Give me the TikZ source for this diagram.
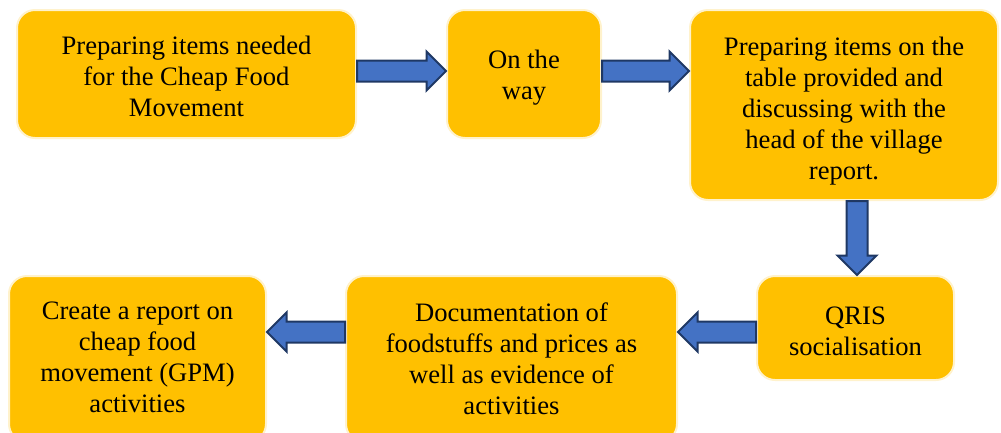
\documentclass[tikz,border=0pt]{standalone}
\usepackage{fontspec}
\setmainfont{Liberation Serif}
\usetikzlibrary{shapes.arrows, calc}
\definecolor{boxfill}{HTML}{FFC000}
\definecolor{boxline}{HTML}{FFF2CC}
\definecolor{arrowfill}{HTML}{4472C4}
\definecolor{arrowline}{HTML}{1F3864}
\tikzstyle{box} = [rectangle, rounded corners=18pt, inner sep=0pt, draw=boxline, line width=2pt, fill=boxfill]
\tikzstyle{boxtext} = [align=center, inner sep=0pt, font=\fontsize{26.6}{31}\selectfont]
\tikzstyle{blockarrow} = [single arrow, draw=arrowline, fill=arrowfill, line width=2pt, inner xsep=0pt, inner ysep=9.5pt, outer sep=0pt, single arrow head extend=9pt, anchor=tail]
\newcommand{\flowarrow}[2]{%
  \path let \p1=(#1), \p2=(#2), \n1={veclen(\x2-\x1,\y2-\y1)}, \n2={atan2(\y2-\y1,\x2-\x1)} in
    node [blockarrow, minimum height=\n1, rotate=\n2] at (#1) {};}

\begin{document}
\begin{tikzpicture}[x=1pt, y=-1pt]
    \useasboundingbox (0,0) rectangle (1001,432);
    \clip (0,0) rectangle (1001,432);

    % Nodes
    \node (prep) [box, minimum width=339pt, minimum height=128pt] at (186.5,74) {};
    \node (onway) [box, minimum width=154pt, minimum height=128pt] at (524,74) {};
    \node (table) [box, minimum width=308pt, minimum height=190pt] at (844,105) {};
    \node (qris) [box, minimum width=197pt, minimum height=104pt] at (855.5,328) {};
    \node (docu) [box, minimum width=331pt, minimum height=166pt] at (511.5,359) {};
    \node (report) [box, minimum width=257pt, minimum height=166pt] at (137.5,359) {};

    \node (t1) [boxtext] at ($(prep.center)+(0,2)$) {Preparing items needed\\for the Cheap Food\\Movement};
    \node (t2) [boxtext] at ($(onway.center)+(0,4)$) {On the\\way};
    \node (t3) [boxtext] at ($(table.center)+(0,6)$) {Preparing items on the\\table provided and\\discussing with the\\head of the village\\report.};
    \node (t4) [boxtext] at ($(qris.center)+(0,3)$) {QRIS\\socialisation};
    \node (t5) [boxtext] at (docu.center) {Documentation of\\foodstuffs and prices as\\well as evidence of\\activities};
    \node (t6) [boxtext] at ($(report.center)+(0,-2)$) {Create a report on\\cheap food\\movement (GPM)\\activities};

    % Arrows
    \coordinate (a1) at ($(prep.east)+(0,-3)$);
    \coordinate (a2) at ($(onway.east)+(0,-3)$);
    \coordinate (a3) at ($(table.south)+(13,0)$);
    \coordinate (a4) at ($(qris.west)+(0,4)$);
    \coordinate (a5) at ($(docu.west)+(0,-27)$);
    \flowarrow{a1}{onway.west |- a1}
    \flowarrow{a2}{table.west |- a2}
    \flowarrow{a3}{a3 |- qris.north}
    \flowarrow{a4}{docu.east |- a4}
    \flowarrow{a5}{report.east |- a5}
\end{tikzpicture}
\end{document}
